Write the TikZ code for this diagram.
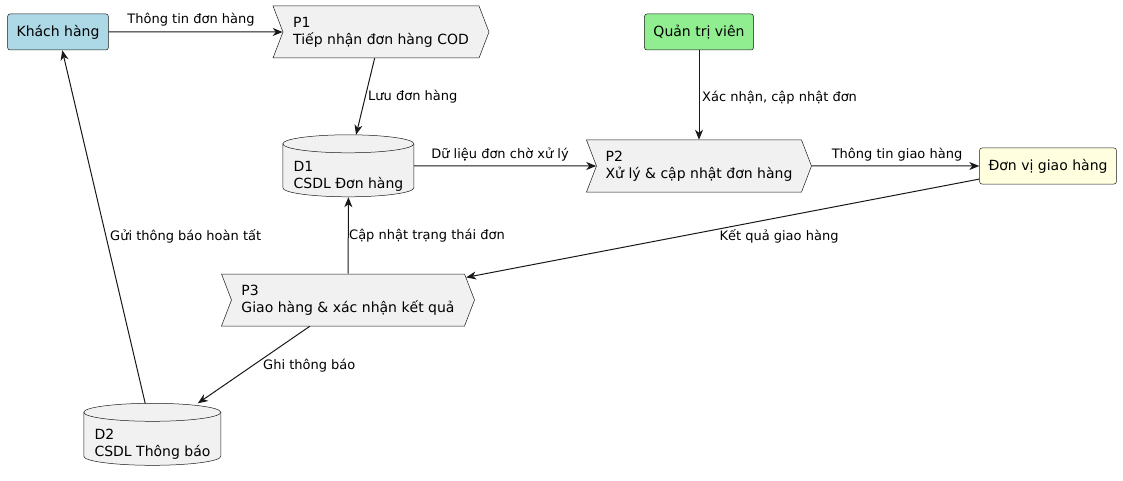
\documentclass[tikz,border=0pt]{standalone}
\usepackage{fontspec}
\setmainfont{DejaVu Sans}
\usetikzlibrary{shapes.symbols,arrows.meta}

\newlength{\du}
\setlength{\du}{1\unitlength}

\definecolor{boxline}{rgb}{0.094118, 0.094118, 0.094118}
\definecolor{boxfill}{rgb}{0.945098, 0.945098, 0.945098}
\definecolor{actorblue}{rgb}{0.678431, 0.847059, 0.901961}
\definecolor{actorgreen}{rgb}{0.564706, 0.933333, 0.564706}
\definecolor{actoryellow}{rgb}{1.000000, 1.000000, 0.878431}

\tikzset{
  entity/.style={draw=boxline, line width=0.5pt, rounded corners=2.5\du,
    minimum height=36\du, inner xsep=9\du, font=\fontsize{14}{17}\selectfont},
  process/.style={signal, signal to=east, signal from=west, signal pointer angle=138,
    draw=boxline, fill=boxfill, line width=0.5pt, minimum height=52\du,
    align=left, font=\fontsize{14}{17}\selectfont},
  store/.style={rectangle, minimum height=62\du},
  storetext/.style={align=left, inner sep=0pt, font=\fontsize{14}{17}\selectfont},
  storeline/.style={draw=boxline, fill=boxfill, line width=0.5pt},
  flow/.style={-{Stealth[length=10pt,width=8pt,inset=3pt]}, draw=boxline, line width=1pt},
  flowlabel/.style={font=\fontsize{13}{15}\selectfont, inner sep=0pt}
}

% data store can: node, half width, straight side length
\newcommand{\dbcan}[3]{%
\filldraw[storeline] (#1.north west) ++(0,9\du) -- ++(0,#3\du)
  arc[start angle=180, end angle=0, x radius=#2\du, y radius=9\du] -- ++(0,-#3\du)
  arc[start angle=0, end angle=-180, x radius=#2\du, y radius=9\du] -- cycle;
\draw[storeline, fill=none] (#1.north west) ++(0,9\du)
  arc[start angle=180, end angle=0, x radius=#2\du, y radius=9\du];
}

\begin{document}
\begin{tikzpicture}
\pgftransformxscale{1.000000}
\pgftransformyscale{-1.000000}
\useasboundingbox (0\du,0\du) rectangle (1123\du,481\du);

% actors
\node[entity, fill=actorblue] (kh) at (58\du,32\du){Khách hàng};
\node[entity, fill=actorgreen] (qt) at (699\du,32\du){Quản trị viên};
\node[entity, fill=actoryellow] (dv) at (1048\du,166\du){Đơn vị giao hàng};

% processes
\node[process, minimum width=216\du] (p1) at (381\du,32\du){P1\\Tiếp nhận đơn hàng COD};
\node[process, minimum width=225\du] (p2) at (699\du,166\du){P2\\Xử lý \& cập nhật đơn hàng};
\node[process, minimum width=253\du] (p3) at (348\du,300\du){P3\\Giao hàng \& xác nhận kết quả};

% data stores
\node[store, minimum width=131\du] (d1) at (348.5\du,166\du){};
\node[store, minimum width=137\du] (d2) at (152.5\du,434.5\du){};
\dbcan{d1}{65.5}{44}
\dbcan{d2}{68.5}{44}
\node[storetext] (d1t) at (348.5\du,176\du){D1\\CSDL Đơn hàng};
\node[storetext] (d2t) at (152.5\du,444\du){D2\\CSDL Thông báo};

% flows
\draw[flow] (kh) -- (p1);
\draw[flow] (p1) -- (d1);
\draw[flow] (qt) -- (p2);
\draw[flow] (d1) -- (p2);
\draw[flow] (p2) -- (dv);
\draw[flow] (dv) -- (p3);
\draw[flow] (p3) -- (d1);
\draw[flow] (p3) -- (d2);
\draw[flow] (d2) -- (kh);

% flow labels
\node[flowlabel] (lkhp1) at (191\du,20\du){Thông tin đơn hàng};
\node[flowlabel, anchor=west] (lp1d1) at (368\du,97\du){Lưu đơn hàng};
\node[flowlabel, anchor=west] (lqtp2) at (702\du,98\du){Xác nhận, cập nhật đơn};
\node[flowlabel] (ld1p2) at (500\du,155\du){Dữ liệu đơn chờ xử lý};
\node[flowlabel] (lp2dv) at (897\du,155\du){Thông tin giao hàng};
\node[flowlabel] (ldvp3) at (779\du,236\du){Kết quả giao hàng};
\node[flowlabel, anchor=west] (lp3d1) at (349\du,236\du){Cập nhật trạng thái đơn};
\node[flowlabel, anchor=west] (ld2kh) at (110\du,236\du){Gửi thông báo hoàn tất};
\node[flowlabel, anchor=west] (lp3d2) at (263\du,366\du){Ghi thông báo};
\end{tikzpicture}
\end{document}
